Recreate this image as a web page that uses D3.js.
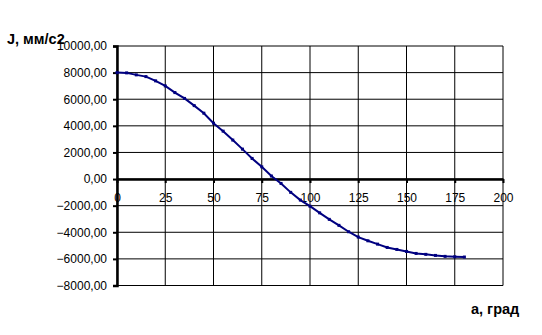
<!DOCTYPE html>
<html>
<head>
<meta charset="utf-8">
<script src="https://cdn.jsdelivr.net/npm/d3@7"></script>
<style>
  body { margin: 0; background: #fff; }
  text { font-family: Arial, "Liberation Sans", sans-serif; }
</style>
</head>
<body>
<div id="chart"></div>
<script>
// data
let angles = [0, 5, 10, 15, 20, 25, 30, 35, 40, 45, 50, 55, 60, 65, 70, 75, 80, 85, 90,
    95, 100, 105, 110, 115, 120, 125, 130, 135, 140, 145, 150, 155, 160, 165, 170, 175, 180];
let accel = [8000, 7980, 7830, 7700, 7380, 7000, 6500, 6060, 5520, 4950, 4200, 3600, 2930, 2250,
    1550, 920, 230, -330, -1000, -1580, -2040, -2540, -3030, -3480, -3960, -4360, -4640, -4890,
    -5140, -5290, -5440, -5590, -5660, -5740, -5810, -5840, -5860];
let xTicks = [0, 25, 50, 75, 100, 125, 150, 175, 200];
let yTicks = [-8000, -6000, -4000, -2000, 0, 2000, 4000, 6000, 8000, 10000];

let svgWidth = 542;
let svgHeight = 335;

let margin = { top: 46, left: 117 };
let width = 386;
let height = 239.5;

var svg = d3.select("#chart")
    .append("svg")
    .attr("width", svgWidth)
    .attr("height", svgHeight);

var chartGroup = svg.append("g")
    .attr("transform", `translate(${margin.left}, ${margin.top})`);

var x = d3.scaleLinear().domain([0, 200]).range([0, width]);
var y = d3.scaleLinear().domain([-8000, 10000]).range([height, 0]);

// grid lines
chartGroup.selectAll(".vgrid")
    .data(xTicks)
    .enter()
    .append("line")
    .attr("x1", d => x(d)).attr("x2", d => x(d))
    .attr("y1", 0).attr("y2", height)
    .attr("stroke", "#000")
    .attr("stroke-width", 1);

chartGroup.selectAll(".hgrid")
    .data(yTicks)
    .enter()
    .append("line")
    .attr("x1", 0).attr("x2", width)
    .attr("y1", d => y(d)).attr("y2", d => y(d))
    .attr("stroke", "#000")
    .attr("stroke-width", 1);

// y axis
var leftAxis = d3.axisLeft(y)
    .tickValues(yTicks)
    .tickSize(4)
    .tickPadding(6)
    .tickFormat(d => d3.format(".2f")(d).replace(".", ","));

var yAxisG = chartGroup.append("g").call(leftAxis);
yAxisG.select(".domain").attr("stroke-width", 2.5);
yAxisG.selectAll(".tick line").attr("stroke-width", 2);
yAxisG.selectAll("text")
    .attr("font-size", "12px")
    .attr("font-family", "Arial, 'Liberation Sans', sans-serif")
    .attr("fill", "#000");

// x axis on zero line
var bottomAxis = d3.axisBottom(x)
    .tickValues(xTicks)
    .tickSize(4)
    .tickPadding(10)
    .tickSizeOuter(0);

var xAxisG = chartGroup.append("g")
    .attr("transform", `translate(0, ${y(0)})`)
    .call(bottomAxis);
xAxisG.select(".domain").attr("stroke-width", 2.5);
xAxisG.selectAll(".tick line").attr("stroke-width", 2);
xAxisG.selectAll("text")
    .attr("font-size", "12px")
    .attr("font-family", "Arial, 'Liberation Sans', sans-serif")
    .attr("fill", "#000");

// the curve
var line = d3.line()
    .x((d, i) => x(angles[i]))
    .y(d => y(d));

chartGroup.append("path")
    .datum(accel)
    .attr("d", line)
    .attr("fill", "none")
    .attr("stroke", "#000080")
    .attr("stroke-width", 2);

chartGroup.selectAll(".pt")
    .data(accel)
    .enter()
    .append("rect")
    .attr("x", (d, i) => x(angles[i]) - 1.5)
    .attr("y", d => y(d) - 1.5)
    .attr("width", 3)
    .attr("height", 3)
    .attr("fill", "#000080");

// axis titles
svg.append("text")
    .attr("x", 7)
    .attr("y", 44)
    .attr("font-size", "14.5px")
    .attr("font-weight", "bold")
    .text("J, мм/с2");

svg.append("text")
    .attr("x", 471)
    .attr("y", 314)
    .attr("font-size", "14.5px")
    .attr("font-weight", "bold")
    .text("a, град");
</script>
</body>
</html>
